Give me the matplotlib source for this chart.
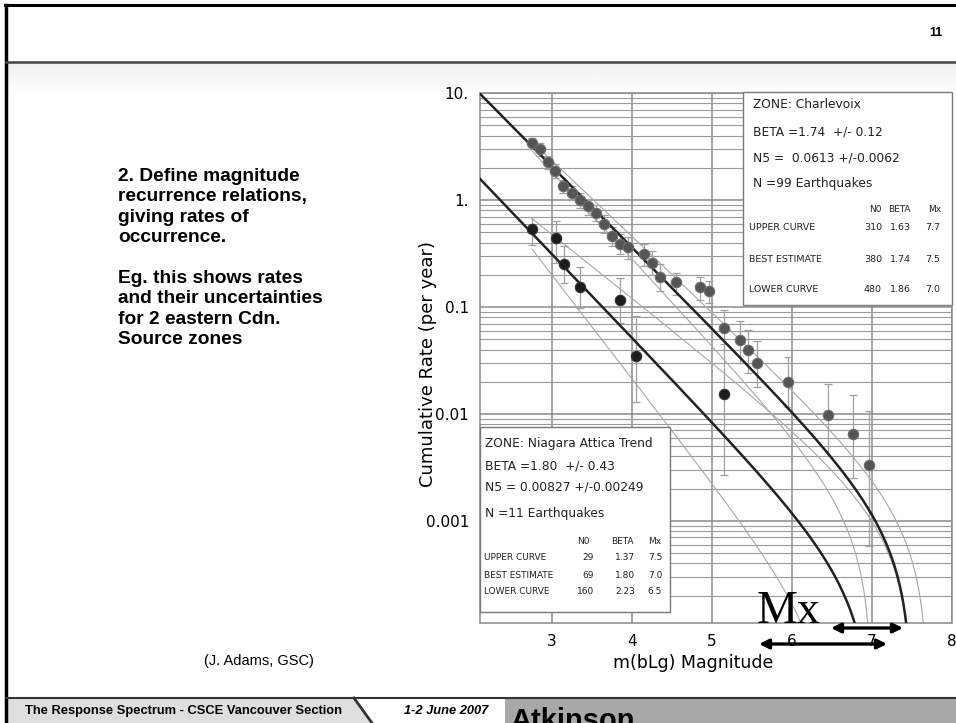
import matplotlib
matplotlib.use("Agg")
import matplotlib.pyplot as plt
import numpy as np
from matplotlib.patches import Rectangle, Polygon

W, H = 956, 723

# Charlevoix zone: observed cumulative rates with error bars
ch_mag = [2.75, 2.85, 2.95, 3.04, 3.14, 3.25, 3.35, 3.45, 3.55, 3.65, 3.75, 3.85, 3.95,
          4.15, 4.25, 4.35, 4.55, 4.85, 4.96, 5.15, 5.35, 5.45, 5.56, 5.95, 6.45, 6.76, 6.96]
ch_rate = [3.39, 3.0, 2.28, 1.88, 1.35, 1.17, 1.0, 0.88, 0.76, 0.60, 0.46, 0.39, 0.36,
           0.31, 0.26, 0.19, 0.17, 0.155, 0.14, 0.064, 0.049, 0.040, 0.030, 0.020, 0.0098, 0.0065, 0.0033]
ch_hi = [3.8, 3.4, 2.6, 2.15, 1.55, 1.35, 1.16, 1.03, 0.9, 0.72, 0.56, 0.48, 0.45,
         0.39, 0.33, 0.25, 0.206, 0.19, 0.173, 0.094, 0.074, 0.061, 0.048, 0.034, 0.019, 0.015, 0.0107]
ch_lo = [3.0, 2.6, 1.95, 1.6, 1.15, 0.99, 0.84, 0.73, 0.63, 0.49, 0.37, 0.31, 0.28,
         0.24, 0.2, 0.14, 0.129, 0.116, 0.108, 0.040, 0.030, 0.024, 0.018, 0.0117, 0.004, 0.0025, 0.00058]

# Niagara Attica Trend zone
ni_mag = [2.75, 3.05, 3.15, 3.35, 3.85, 4.05, 5.15]
ni_rate = [0.536, 0.44, 0.25, 0.155, 0.116, 0.035, 0.0153]
ni_hi = [0.70, 0.63, 0.37, 0.235, 0.185, 0.082, 0.045]
ni_lo = [0.38, 0.26, 0.167, 0.098, 0.071, 0.0128, 0.0027]

# recurrence curves: upper, best estimate, lower
curve_names = ["UPPER CURVE", "BEST ESTIMATE", "LOWER CURVE"]
ch_n0 = [310, 380, 480]
ch_beta = [1.63, 1.74, 1.86]
ch_mx = [7.7, 7.5, 7.0]
ni_n0 = [29, 69, 160]
ni_beta = [1.37, 1.80, 2.23]
ni_mx = [7.5, 7.0, 6.5]

ytick_vals = [10, 1, 0.1, 0.01, 0.001]
ytick_text = ["10.", "1.", "0.1", "0.01", "0.001"]
xtick_vals = [3, 4, 5, 6, 7, 8]

bullet_text = ("2. Define magnitude\nrecurrence relations,\ngiving rates of\noccurrence.\n\n"
               "Eg. this shows rates\nand their uncertainties\nfor 2 eastern Cdn.\nSource zones")


def recurrence(n0, beta, mx, m0):
    m = np.linspace(m0, mx, 800)[:-1]
    return m, n0 * (np.exp(-beta * m) - np.exp(-beta * mx))


fig = plt.figure(figsize=(W / 100, H / 100), dpi=100)
fig.patch.set_facecolor("white")

# slide background layer (pixel coordinates)
bg = fig.add_axes([0, 0, 1, 1], zorder=0)
bg.set_xlim(0, W)
bg.set_ylim(H, 0)
bg.axis("off")
grad = np.linspace(0.94, 1.0, 40).reshape(-1, 1)
bg.imshow(grad, cmap="gray", vmin=0, vmax=1, extent=[6, W, 96, 63], aspect="auto")
bg.plot([5, W], [5, 5], color="black", lw=2.2)
bg.plot([6, 6], [5, H], color="black", lw=2.5)
bg.plot([6, W], [62, 62], color="#444444", lw=1.8)
bg.text(936, 33, "11", ha="center", va="center", fontsize=9, fontweight="bold",
        family="Liberation Sans")
bg.text(118, 168, bullet_text, ha="left", va="top", fontsize=13.8, fontweight="bold",
        family="Liberation Sans", linespacing=1.26)
bg.text(259, 661, "(J. Adams, GSC)", ha="center", va="center", fontsize=10.5,
        family="Liberation Sans")

# footer bar
bg.add_patch(Polygon([[6, 698], [354, 698], [372, H], [6, H]], closed=True,
                     facecolor="#dedede", edgecolor="none"))
bg.add_patch(Rectangle((505, 698), W - 505, H - 698, facecolor="#a8a8a8", edgecolor="none"))
bg.plot([6, W], [698, 698], color="#333333", lw=1.5)
bg.plot([354, 372], [698, H], color="#333333", lw=2)
bg.text(184, 711, "The Response Spectrum - CSCE Vancouver Section", ha="center", va="center",
        fontsize=9.3, fontweight="bold", family="Liberation Sans")
bg.text(446, 711, "1-2 June 2007", ha="center", va="center", fontsize=9.3,
        fontweight="bold", style="italic", family="Liberation Sans")
bg.text(510, 729, "Atkinson", ha="left", va="baseline", fontsize=21, fontweight="bold",
        family="Liberation Sans")

# chart
ax = fig.add_axes([480 / W, 1 - 623 / H, (952 - 480) / W, (623 - 93) / H], zorder=1)
ax.set_yscale("log")
ax.set_xlim(2.1, 8.0)
ax.set_ylim(1.11e-4, 10)
ax.set_yticks(ytick_vals)
ax.set_yticklabels(ytick_text)
ax.set_xticks(xtick_vals)
ax.tick_params(which="both", length=0, labelsize=11, pad=8)
for lab in ax.get_xticklabels() + ax.get_yticklabels():
    lab.set_family("DejaVu Sans")
ax.grid(which="major", color="#8a8a8a", lw=1.1)
ax.grid(which="minor", axis="y", color="#9a9a9a", lw=0.8)
ax.set_axisbelow(True)
for sp in ax.spines.values():
    sp.set_color("#8a8a8a")
    sp.set_linewidth(1.1)

for i in range(3):
    lw, col = (1.8, "#222222") if i == 1 else (0.8, "#a8a8a8")
    m0 = 2.1 if i == 1 else 2.75
    m, r = recurrence(ch_n0[i], ch_beta[i], ch_mx[i], m0)
    ax.plot(m, r, color=col, lw=lw, zorder=3 if i == 1 else 2)
    m, r = recurrence(ni_n0[i], ni_beta[i], ni_mx[i], m0)
    ax.plot(m, r, color=col, lw=lw, zorder=3 if i == 1 else 2)

ch_rate_a = np.array(ch_rate)
ax.errorbar(ch_mag, ch_rate, yerr=[ch_rate_a - np.array(ch_lo), np.array(ch_hi) - ch_rate_a],
            fmt="none", ecolor="#a0a0a0", elinewidth=0.9, capsize=3, capthick=0.9, zorder=2.5)
ni_rate_a = np.array(ni_rate)
ax.errorbar(ni_mag, ni_rate, yerr=[ni_rate_a - np.array(ni_lo), np.array(ni_hi) - ni_rate_a],
            fmt="none", ecolor="#a0a0a0", elinewidth=0.9, capsize=3, capthick=0.9, zorder=2.5)
ax.plot(ch_mag, ch_rate, "o", ms=7.5, mfc="#555555", mec="#6e6e6e", mew=0.8, zorder=4)
ax.plot(ni_mag, ni_rate, "o", ms=7.5, mfc="#1c1c1c", mec="#333333", mew=0.8, zorder=4)

# overlay layer for boxes, labels and the Mx marks
fg = fig.add_axes([0, 0, 1, 1], zorder=5)
fg.set_xlim(0, W)
fg.set_ylim(H, 0)
fg.axis("off")
fg.patch.set_alpha(0)

fg.text(428, 364, "Cumulative Rate (per year)", rotation=90, ha="center", va="center",
        fontsize=13, family="DejaVu Sans")
fg.text(693, 663, "m(bLg) Magnitude", ha="center", va="center", fontsize=12.5,
        family="DejaVu Sans")

tfont = dict(family="DejaVu Sans", color="#222222")

# Charlevoix box
fg.add_patch(Rectangle((743, 92), 209, 213, facecolor="white", edgecolor="#7a7a7a", lw=1))
fg.text(753, 105, "ZONE: Charlevoix", fontsize=8.8, va="center", **tfont)
fg.text(753, 132, "BETA =%.2f  +/- 0.12" % ch_beta[1], fontsize=8.8, va="center", **tfont)
fg.text(753, 158, "N5 =  0.0613 +/-0.0062", fontsize=8.8, va="center", **tfont)
fg.text(753, 184, "N =99 Earthquakes", fontsize=8.8, va="center", **tfont)
fg.text(882, 209, "N0", fontsize=6.5, ha="right", va="center", **tfont)
fg.text(899, 209, "BETA", fontsize=6.5, ha="center", va="center", **tfont)
fg.text(935, 209, "Mx", fontsize=6.5, ha="center", va="center", **tfont)
for i, y in enumerate([228, 259, 290]):
    fg.text(749, y, curve_names[i], fontsize=6.8, va="center", **tfont)
    fg.text(882, y, "%d" % ch_n0[i], fontsize=6.8, ha="right", va="center", **tfont)
    fg.text(900, y, "%.2f" % ch_beta[i], fontsize=6.8, ha="center", va="center", **tfont)
    fg.text(933, y, "%.1f" % ch_mx[i], fontsize=6.8, ha="center", va="center", **tfont)

# Niagara box
fg.add_patch(Rectangle((480, 427), 190, 185, facecolor="white", edgecolor="#7a7a7a", lw=1))
fg.text(485, 443, "ZONE: Niagara Attica Trend", fontsize=8.8, va="center", **tfont)
fg.text(485, 466, "BETA =%.2f  +/- 0.43" % ni_beta[1], fontsize=8.8, va="center", **tfont)
fg.text(485, 487, "N5 = 0.00827 +/-0.00249", fontsize=8.8, va="center", **tfont)
fg.text(485, 513, "N =11 Earthquakes", fontsize=8.8, va="center", **tfont)
fg.text(590, 541, "N0", fontsize=6.5, ha="right", va="center", **tfont)
fg.text(622, 541, "BETA", fontsize=6.5, ha="center", va="center", **tfont)
fg.text(655, 541, "Mx", fontsize=6.5, ha="center", va="center", **tfont)
for i, y in enumerate([558, 575, 592]):
    fg.text(484, y, curve_names[i], fontsize=6.5, va="center", **tfont)
    fg.text(594, y, "%d" % ni_n0[i], fontsize=6.5, ha="right", va="center", **tfont)
    fg.text(625, y, "%.2f" % ni_beta[i], fontsize=6.5, ha="center", va="center", **tfont)
    fg.text(655, y, "%.1f" % ni_mx[i], fontsize=6.5, ha="center", va="center", **tfont)

# Mx label and ranges
fg.text(757, 623, "Mx", fontsize=33, family="Liberation Serif", ha="left", va="baseline")
arrow = dict(arrowstyle="<|-|>", lw=2.4, color="black", mutation_scale=14,
             shrinkA=0, shrinkB=0)
fg.annotate("", xy=(903, 628), xytext=(831, 628), arrowprops=arrow)
fg.annotate("", xy=(887, 644), xytext=(759, 644), arrowprops=arrow)

fig.savefig("out.png", dpi=100)
